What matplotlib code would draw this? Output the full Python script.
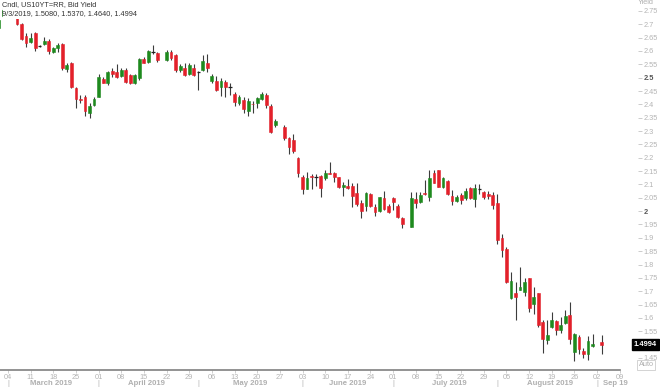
import numpy as np
import pandas as pd
import matplotlib
matplotlib.use('Agg')
import matplotlib.pyplot as plt
from matplotlib.patches import Rectangle
import matplotlib.transforms as mtransforms

plt.rcParams['font.family'] = 'Liberation Sans'

# weekday calendar, holidays have no candle
holidays = ['2019-04-19', '2019-05-27', '2019-07-04', '2019-09-02']

# OHLC of the US 10Y bid yield, one value per trading day (Feb 28 .. Sep 3, 2019)
open_ = [2.685, 2.730, 2.752, 2.735, 2.726, 2.701, 2.656, 2.635, 2.666, 2.618,
         2.626, 2.639, 2.597, 2.610, 2.626, 2.531, 2.554, 2.460, 2.421, 2.429,
         2.369, 2.398, 2.429, 2.495, 2.479, 2.526, 2.522, 2.506, 2.529, 2.510,
         2.479, 2.498, 2.569, 2.560, 2.595, 2.594, 2.566, 2.596, 2.585, 2.529,
         2.535, 2.514, 2.535, 2.520, 2.529, 2.556, 2.488, 2.489, 2.464, 2.485,
         2.464, 2.439, 2.406, 2.416, 2.376, 2.403, 2.406, 2.419, 2.435, 2.394,
         2.323, 2.316, 2.273, 2.267, 2.198, 2.129, 2.084, 2.133, 2.129, 2.132,
         2.123, 2.142, 2.142, 2.127, 2.090, 2.096, 2.094, 2.069, 2.030, 2.019,
         2.064, 2.017, 2.002, 2.048, 2.019, 2.048, 2.019, 1.973, 1.942, 2.045,
         2.036, 2.069, 2.054, 2.142, 2.154, 2.092, 2.113, 2.057, 2.039, 2.060,
         2.048, 2.088, 2.045, 2.082, 2.071, 2.064, 2.061, 2.030, 1.899, 1.857,
         1.674, 1.693, 1.704, 1.697, 1.748, 1.651, 1.692, 1.585, 1.519, 1.566,
         1.589, 1.554, 1.581, 1.610, 1.473, 1.529, 1.476, 1.464, 1.494, 1.508]
high = [2.725, 2.760, 2.760, 2.745, 2.730, 2.704, 2.666, 2.669, 2.672, 2.622,
        2.654, 2.644, 2.616, 2.629, 2.631, 2.554, 2.560, 2.464, 2.435, 2.435,
        2.404, 2.427, 2.514, 2.501, 2.526, 2.535, 2.551, 2.535, 2.535, 2.514,
        2.514, 2.573, 2.579, 2.604, 2.622, 2.597, 2.602, 2.604, 2.589, 2.551,
        2.554, 2.554, 2.551, 2.526, 2.585, 2.589, 2.514, 2.506, 2.498, 2.491,
        2.479, 2.448, 2.435, 2.427, 2.423, 2.414, 2.429, 2.448, 2.442, 2.401,
        2.344, 2.323, 2.279, 2.289, 2.204, 2.136, 2.148, 2.139, 2.139, 2.136,
        2.154, 2.183, 2.148, 2.129, 2.111, 2.120, 2.105, 2.105, 2.042, 2.073,
        2.069, 2.027, 2.054, 2.077, 2.027, 2.054, 2.027, 1.977, 2.073, 2.073,
        2.073, 2.117, 2.154, 2.154, 2.156, 2.129, 2.117, 2.079, 2.061, 2.067,
        2.086, 2.092, 2.102, 2.102, 2.077, 2.077, 2.073, 2.064, 1.915, 1.867,
        1.773, 1.735, 1.791, 1.750, 1.750, 1.714, 1.694, 1.591, 1.591, 1.623,
        1.591, 1.604, 1.629, 1.660, 1.544, 1.535, 1.489, 1.531, 1.541, 1.537]
low = [2.679, 2.728, 2.728, 2.728, 2.696, 2.642, 2.616, 2.631, 2.601, 2.616,
       2.622, 2.589, 2.591, 2.597, 2.529, 2.522, 2.460, 2.385, 2.404, 2.357,
       2.348, 2.394, 2.427, 2.479, 2.473, 2.501, 2.499, 2.501, 2.481, 2.476,
       2.476, 2.491, 2.554, 2.554, 2.589, 2.560, 2.563, 2.566, 2.522, 2.522,
       2.506, 2.510, 2.506, 2.454, 2.525, 2.522, 2.479, 2.451, 2.431, 2.429,
       2.435, 2.394, 2.398, 2.367, 2.357, 2.369, 2.385, 2.416, 2.385, 2.293,
       2.316, 2.267, 2.214, 2.217, 2.129, 2.064, 2.082, 2.082, 2.094, 2.054,
       2.117, 2.139, 2.111, 2.086, 2.058, 2.082, 2.017, 2.019, 1.973, 2.002,
       2.015, 1.982, 1.998, 2.004, 1.994, 2.004, 1.973, 1.936, 1.940, 2.011,
       2.030, 2.061, 2.039, 2.105, 2.090, 2.086, 2.061, 2.023, 2.036, 2.027,
       2.042, 2.045, 2.015, 2.064, 2.045, 2.045, 2.007, 1.877, 1.830, 1.730,
       1.670, 1.591, 1.704, 1.682, 1.624, 1.614, 1.566, 1.469, 1.502, 1.564,
       1.535, 1.544, 1.579, 1.502, 1.439, 1.466, 1.448, 1.442, 1.491, 1.464]
close = [2.716, 2.755, 2.733, 2.730, 2.701, 2.644, 2.631, 2.649, 2.610, 2.618,
         2.639, 2.601, 2.610, 2.624, 2.535, 2.548, 2.464, 2.419, 2.415, 2.376,
         2.394, 2.419, 2.501, 2.481, 2.522, 2.514, 2.501, 2.529, 2.485, 2.481,
         2.510, 2.569, 2.556, 2.601, 2.595, 2.566, 2.597, 2.573, 2.529, 2.544,
         2.510, 2.548, 2.510, 2.520, 2.563, 2.535, 2.506, 2.454, 2.489, 2.464,
         2.464, 2.410, 2.429, 2.382, 2.414, 2.400, 2.423, 2.438, 2.398, 2.298,
         2.339, 2.273, 2.239, 2.227, 2.144, 2.082, 2.123, 2.127, 2.129, 2.086,
         2.142, 2.139, 2.129, 2.090, 2.098, 2.086, 2.057, 2.027, 2.002, 2.069,
         2.019, 1.995, 2.052, 2.007, 1.998, 2.036, 1.977, 1.952, 2.048, 2.032,
         2.061, 2.064, 2.125, 2.107, 2.092, 2.123, 2.063, 2.039, 2.052, 2.042,
         2.077, 2.048, 2.086, 2.082, 2.054, 2.058, 2.023, 1.892, 1.855, 1.736,
         1.739, 1.680, 1.714, 1.733, 1.636, 1.679, 1.574, 1.522, 1.535, 1.594,
         1.554, 1.573, 1.606, 1.522, 1.541, 1.485, 1.464, 1.514, 1.502, 1.4994]

ytick_vals = [2.75, 2.7, 2.65, 2.6, 2.55, 2.5, 2.45, 2.4, 2.35, 2.3, 2.25, 2.2,
              2.15, 2.1, 2.05, 2.0, 1.95, 1.9, 1.85, 1.8, 1.75, 1.7, 1.65, 1.6,
              1.55, 1.45]
months = ['March 2019', 'April 2019', 'May 2019', 'June 2019', 'July 2019',
          'August 2019', 'Sep 19']
last_value = 1.4994

# x position = weekday index, Mar 4 = 0
cal = pd.bdate_range('2019-02-28', '2019-09-09')
pos = pd.Series(np.arange(len(cal)) - 2, index=cal)
days = cal[(cal <= '2019-09-03') & ~cal.isin(pd.to_datetime(holidays))]
x = pos[days].to_numpy()

df = pd.DataFrame({'o': open_, 'h': high, 'l': low, 'c': close}, index=days)
df['x'] = x

fig = plt.figure(figsize=(6.6, 3.87), dpi=100)
ax = fig.add_axes([0, 17.3 / 387, 620.2 / 660, 369.7 / 387])

red = '#e3202a'
green = '#1e8a1e'
doji = df['o'] == df['c']
up = df['c'] > df['o']
colors = np.where(up, green, red)

ax.vlines(df['x'], df['l'], df['h'], color='#3c3c3c', lw=0.8, zorder=1)
body = df[~doji]
ax.bar(body['x'], (body['c'] - body['o']).abs(), bottom=np.minimum(body['o'], body['c']),
       width=0.62, color=colors[~doji], edgecolor=colors[~doji], linewidth=0.4, zorder=2)
dj = df[doji]
ax.hlines(dj['c'], dj['x'] - 0.36, dj['x'] + 0.36, color='#222222', lw=0.9, zorder=2)

ax.set_xlim(-1.75, 135.1)
ax.set_ylim(1.406, 2.791)

for s in ['top', 'left']:
    ax.spines[s].set_visible(False)
ax.spines['right'].set_position(('outward', 13))
ax.spines['right'].set_visible(False)
ax.spines['bottom'].set_color('#808080')
ax.spines['bottom'].set_linewidth(1.2)

# y axis on the right
ax.yaxis.tick_right()
ax.set_yticks(ytick_vals)
ax.set_yticklabels([f'{v:g}' for v in ytick_vals])
ax.tick_params(axis='y', length=3, width=0.6, color='#c4c4c4',
               labelcolor='#b4b4b4', labelsize=5.3, pad=1)
for lab, v in zip(ax.get_yticklabels(), ytick_vals):
    if v in (2.5, 2.0):
        lab.set_color('#555555')
        lab.set_fontweight('bold')

# x axis: Mondays
mondays = cal[(cal.weekday == 0) & (cal >= '2019-03-04')]
ax.set_xticks(pos[mondays].to_numpy())
ax.set_xticklabels([f'{d.day:02d}' for d in mondays])
ax.tick_params(axis='x', length=2, width=0.6, color='#c8c8c8',
               labelcolor='#b4b4b4', labelsize=5.3, pad=1)

# month row
trans = mtransforms.blended_transform_factory(ax.transData, ax.transAxes)
month_starts = [0, 20, 42, 65, 85, 108, 130]
month_mid = [9.5, 30.5, 53.5, 75, 97.5, 119.5, 134]
for xs in month_starts:
    ax.text(xs, -0.036, '|', transform=trans, ha='center', va='center',
            fontsize=5.5, color='#b0b0b0', clip_on=False)
for xm, name in zip(month_mid, months):
    ax.text(xm, -0.036, name, transform=trans, ha='center', va='center',
            fontsize=5.6, color='#b0b0b0', fontweight='bold', clip_on=False)

# header with white background
fig.add_artist(Rectangle((3 / 660, 1 - 18.5 / 387), 135 / 660, 18.5 / 387,
                         transform=fig.transFigure, fc='white', ec='none', zorder=3))
fig.text(2 / 660, 1 - 5 / 387, 'Cndl, US10YT=RR, Bid Yield', fontsize=5.3,
         color='#333333', va='center', zorder=4)
fig.text(2 / 660, 1 - 14 / 387, '9/3/2019, 1.5080, 1.5370, 1.4640, 1.4994',
         fontsize=5.3, color='#333333', va='center', zorder=4)

fig.text(646 / 660, 1 - 2 / 387, 'Yield', fontsize=5.3, color='#b0b0b0',
         ha='center', va='center')

# last value marker
ytrans = mtransforms.blended_transform_factory(fig.transFigure, ax.transData)
ax.text(634 / 660, last_value, f'{last_value:.4f}', transform=ytrans, ha='left', va='center',
        fontsize=5.4, color='white', fontweight='bold', clip_on=False,
        bbox=dict(boxstyle='square,pad=0.25', fc='black', ec='black'))

fig.text(646 / 660, 1 - 365 / 387, 'Auto', fontsize=5.3, color='#b0b0b0',
         ha='center', va='center',
         bbox=dict(boxstyle='square,pad=0.2', fc='white', ec='#cccccc', lw=0.6))

fig.savefig('out.png', dpi=100)
